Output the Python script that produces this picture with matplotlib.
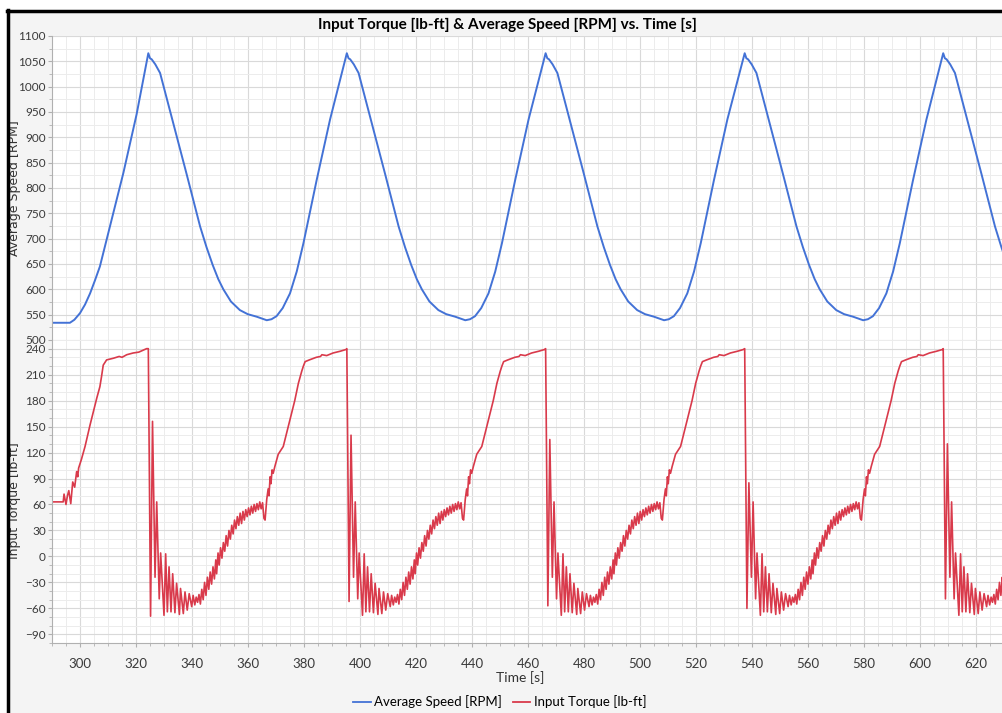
import numpy as np
import matplotlib
matplotlib.use("Agg")
import matplotlib.pyplot as plt
from matplotlib.lines import Line2D
from matplotlib.patches import Rectangle
from matplotlib.ticker import MultipleLocator

# ---- data ----
# speed before the first peak
speed_lead_t = [290.0, 293.0, 296.4, 298.0, 300.0, 301.8, 303.6, 305.3, 307.1, 310.7, 315.5, 320.2]
speed_lead_v = [534, 534, 534, 540, 553, 570, 592, 617, 645, 724, 830, 945]
# one speed cycle, seconds after each peak
speed_cyc_dt = [0.0, 0.6, 1.2, 2.5, 4.2, 8.9, 13.7, 18.5, 20.8, 23.0, 25.0, 26.8, 29.5,
                32.7, 35.5, 38.7, 42.3, 44.0, 45.8, 48.0, 50.6, 53.0, 55.4, 60.1, 64.9]
speed_cyc_v = [1066, 1056, 1054, 1044, 1027, 928, 827, 724, 683, 648, 620, 600, 576,
               559, 551, 546, 539, 541, 547, 563, 592, 635, 691, 815, 935]
peak_times = [324.4, 395.3, 466.3, 537.4, 608.3]

# torque before the first drop
torque_lead_t = [290.0, 294.0, 294.3, 295.0, 295.5, 296.0, 296.7, 297.4, 298.1, 298.8, 299.2,
                 299.5, 300.5, 301.8, 303.6, 306.0, 307.1, 307.7, 308.3, 309.5, 312.0,
                 314.0, 315.0, 316.7, 319.0, 321.0, 323.8]
torque_lead_v = [63, 63, 72, 60, 70, 76, 61, 86, 80, 98, 92, 102, 112, 127, 152, 183, 196,
                 208, 221, 227, 229, 231, 230, 233, 235, 236, 240]
# one torque cycle, seconds after each drop
torque_cyc_dt = [0.0, 0.8, 1.5, 2.4, 3.0, 3.9, 4.4, 5.6, 6.2, 6.8, 7.4, 8.1, 8.7, 9.5, 10.1,
                 11.1, 11.5, 12.5, 13.1, 13.9, 14.6, 15.5, 16.0, 16.6, 17.1, 17.6, 18.1,
                 18.6, 19.1, 19.6, 20.1, 20.6, 21.1, 21.6, 22.1, 22.6, 23.1, 23.6, 24.1,
                 24.4, 24.9, 25.3, 25.8, 26.3, 26.8, 27.3, 27.8, 28.3, 28.8, 29.3, 29.8,
                 30.3, 30.8, 31.3, 31.8, 32.3, 32.8, 33.3, 33.8, 34.3, 34.8, 35.3, 35.8,
                 36.3, 36.8, 37.3, 37.8, 38.3, 38.8, 39.3, 39.8, 40.3, 40.8, 41.3, 41.7,
                 42.3, 42.8, 43.1, 43.5, 43.8, 44.2, 44.6, 45.2, 46.4, 48.2, 50.6, 52.3,
                 53.6, 54.3, 54.8, 55.4, 56.0, 57.5, 60.0, 61.5, 62.0, 63.7, 66.0, 68.5, 70.6]
torque_cyc_v = [240, -69, 156, -24, 63, -49, 4, -68, 3, -64, -12, -64, -20, -65, -31,
                -67, -37, -66, -41, -62, -43, -58, -45, -56, -47, -53, -44,
                -55, -38, -50, -30, -45, -24, -38, -18, -32, -12, -26, -4,
                -20, 4, -10, 10, -2, 16, 6, 24, 12, 30, 20, 36,
                26, 42, 32, 46, 36, 50, 38, 52, 42, 54, 46, 56,
                48, 58, 50, 60, 52, 61, 54, 63, 55, 62, 44, 42,
                66, 78, 70, 92, 84, 100, 96, 104, 118, 127, 158, 180,
                200, 208, 214, 220, 225, 227, 230, 231, 233, 232, 235, 237, 239]
drop_low = [-69, -52, -57, -60, -49]
spike_high = [156, 140, 135, 85, 130]

speed_t = list(speed_lead_t)
speed_v = list(speed_lead_v)
for p in peak_times:
    speed_t += [p + d for d in speed_cyc_dt]
    speed_v += speed_cyc_v

torque_t = list(torque_lead_t)
torque_v = list(torque_lead_v)
for i, p in enumerate(peak_times):
    vals = list(torque_cyc_v)
    vals[1] = drop_low[i]
    vals[2] = spike_high[i]
    torque_t += [p + d for d in torque_cyc_dt]
    torque_v += vals

# ---- figure ----
W, H = 1002, 713
fig = plt.figure(figsize=(W / 100, H / 100), dpi=100, facecolor="white")
fig.add_artist(Rectangle((8 / W, 0), 1 - 8 / W, 1 - 11 / H, transform=fig.transFigure,
                         facecolor="#f4f4f4", edgecolor="none", zorder=-10))
fig.add_artist(Line2D([8 / W, 8 / W], [0, 1 - 10 / H], color="black", lw=2.5,
                      transform=fig.transFigure))
fig.add_artist(Line2D([7 / W, 1], [1 - 11 / H, 1 - 11 / H], color="black", lw=2.5,
                      transform=fig.transFigure))

left = 52 / W
ax1 = fig.add_axes([left, 1 - 340 / H, 1 - left, (340 - 36) / H])
ax2 = fig.add_axes([left, 1 - 643 / H, 1 - left, (643 - 340) / H], sharex=ax1)

blue = "#4372d6"
red = "#d93a4b"
ax1.plot(speed_t, speed_v, color=blue, lw=1.4)
ax2.plot(torque_t, torque_v, color=red, lw=1.2)

tick_font = ["Lato", "DejaVu Sans"]

ax1.set_ylim(500, 1100)
ax1.yaxis.set_major_locator(MultipleLocator(50))
ax1.yaxis.set_minor_locator(MultipleLocator(25))
ax2.set_ylim(-100, 250)
ax2.set_yticks(np.arange(-90, 241, 30))
ax2.yaxis.set_minor_locator(MultipleLocator(10))
ax2.set_xlim(290, 629.3)
ax2.xaxis.set_major_locator(MultipleLocator(20))
ax2.xaxis.set_minor_locator(MultipleLocator(5))

for ax in (ax1, ax2):
    ax.set_facecolor("white")
    ax.grid(True, which="major", color="#d9d9d9", lw=0.8)
    ax.grid(True, which="minor", color="#ececec", lw=0.7)
    ax.set_axisbelow(True)
    for s in ("top", "right"):
        ax.spines[s].set_visible(False)
    for s in ("left", "bottom"):
        ax.spines[s].set_color("#b0b0b0")
    ax.tick_params(which="both", colors="#b0b0b0", labelcolor="#3a3a3a", labelsize=8.5)
    ax.tick_params(which="major", length=3, pad=1.5)
    ax.tick_params(which="minor", length=2)
    for lab in ax.get_yticklabels() + ax.get_xticklabels():
        lab.set_family(tick_font)

ax1.tick_params(axis="x", which="both", bottom=False, labelbottom=False)
ax1.spines["bottom"].set_visible(False)
ax2.tick_params(axis="x", pad=8, labelsize=9.5)

ax1.set_ylabel("Average Speed [RPM]", fontsize=9, color="#333333")
ax2.set_ylabel("Input Torque [lb-ft]", fontsize=9, color="#333333")
ax1.yaxis.set_label_coords(-31 / (W - 52), 0.5)
ax2.yaxis.set_label_coords(-31 / (W - 52), 0.47)

fig.text(507 / W, 1 - 25 / H, "Input Torque [lb-ft] & Average Speed [RPM] vs. Time [s]",
         ha="center", va="center", fontsize=11, fontweight="bold", family=tick_font)
fig.text(520 / W, 1 - 678 / H, "Time [s]", ha="center", va="center", fontsize=10,
         color="#333333", family=tick_font)

handles = [Line2D([], [], color=blue, lw=1.3), Line2D([], [], color=red, lw=1.3)]
fig.legend(handles, ["Average Speed [RPM]", "Input Torque [lb-ft]"], loc="center",
           bbox_to_anchor=(500 / W, 1 - 702 / H), ncol=2, frameon=False,
           prop={"family": tick_font, "size": 9.5}, handlelength=1.3,
           handletextpad=0.3, columnspacing=0.8)

fig.savefig("out.png", dpi=100, facecolor=fig.get_facecolor())
